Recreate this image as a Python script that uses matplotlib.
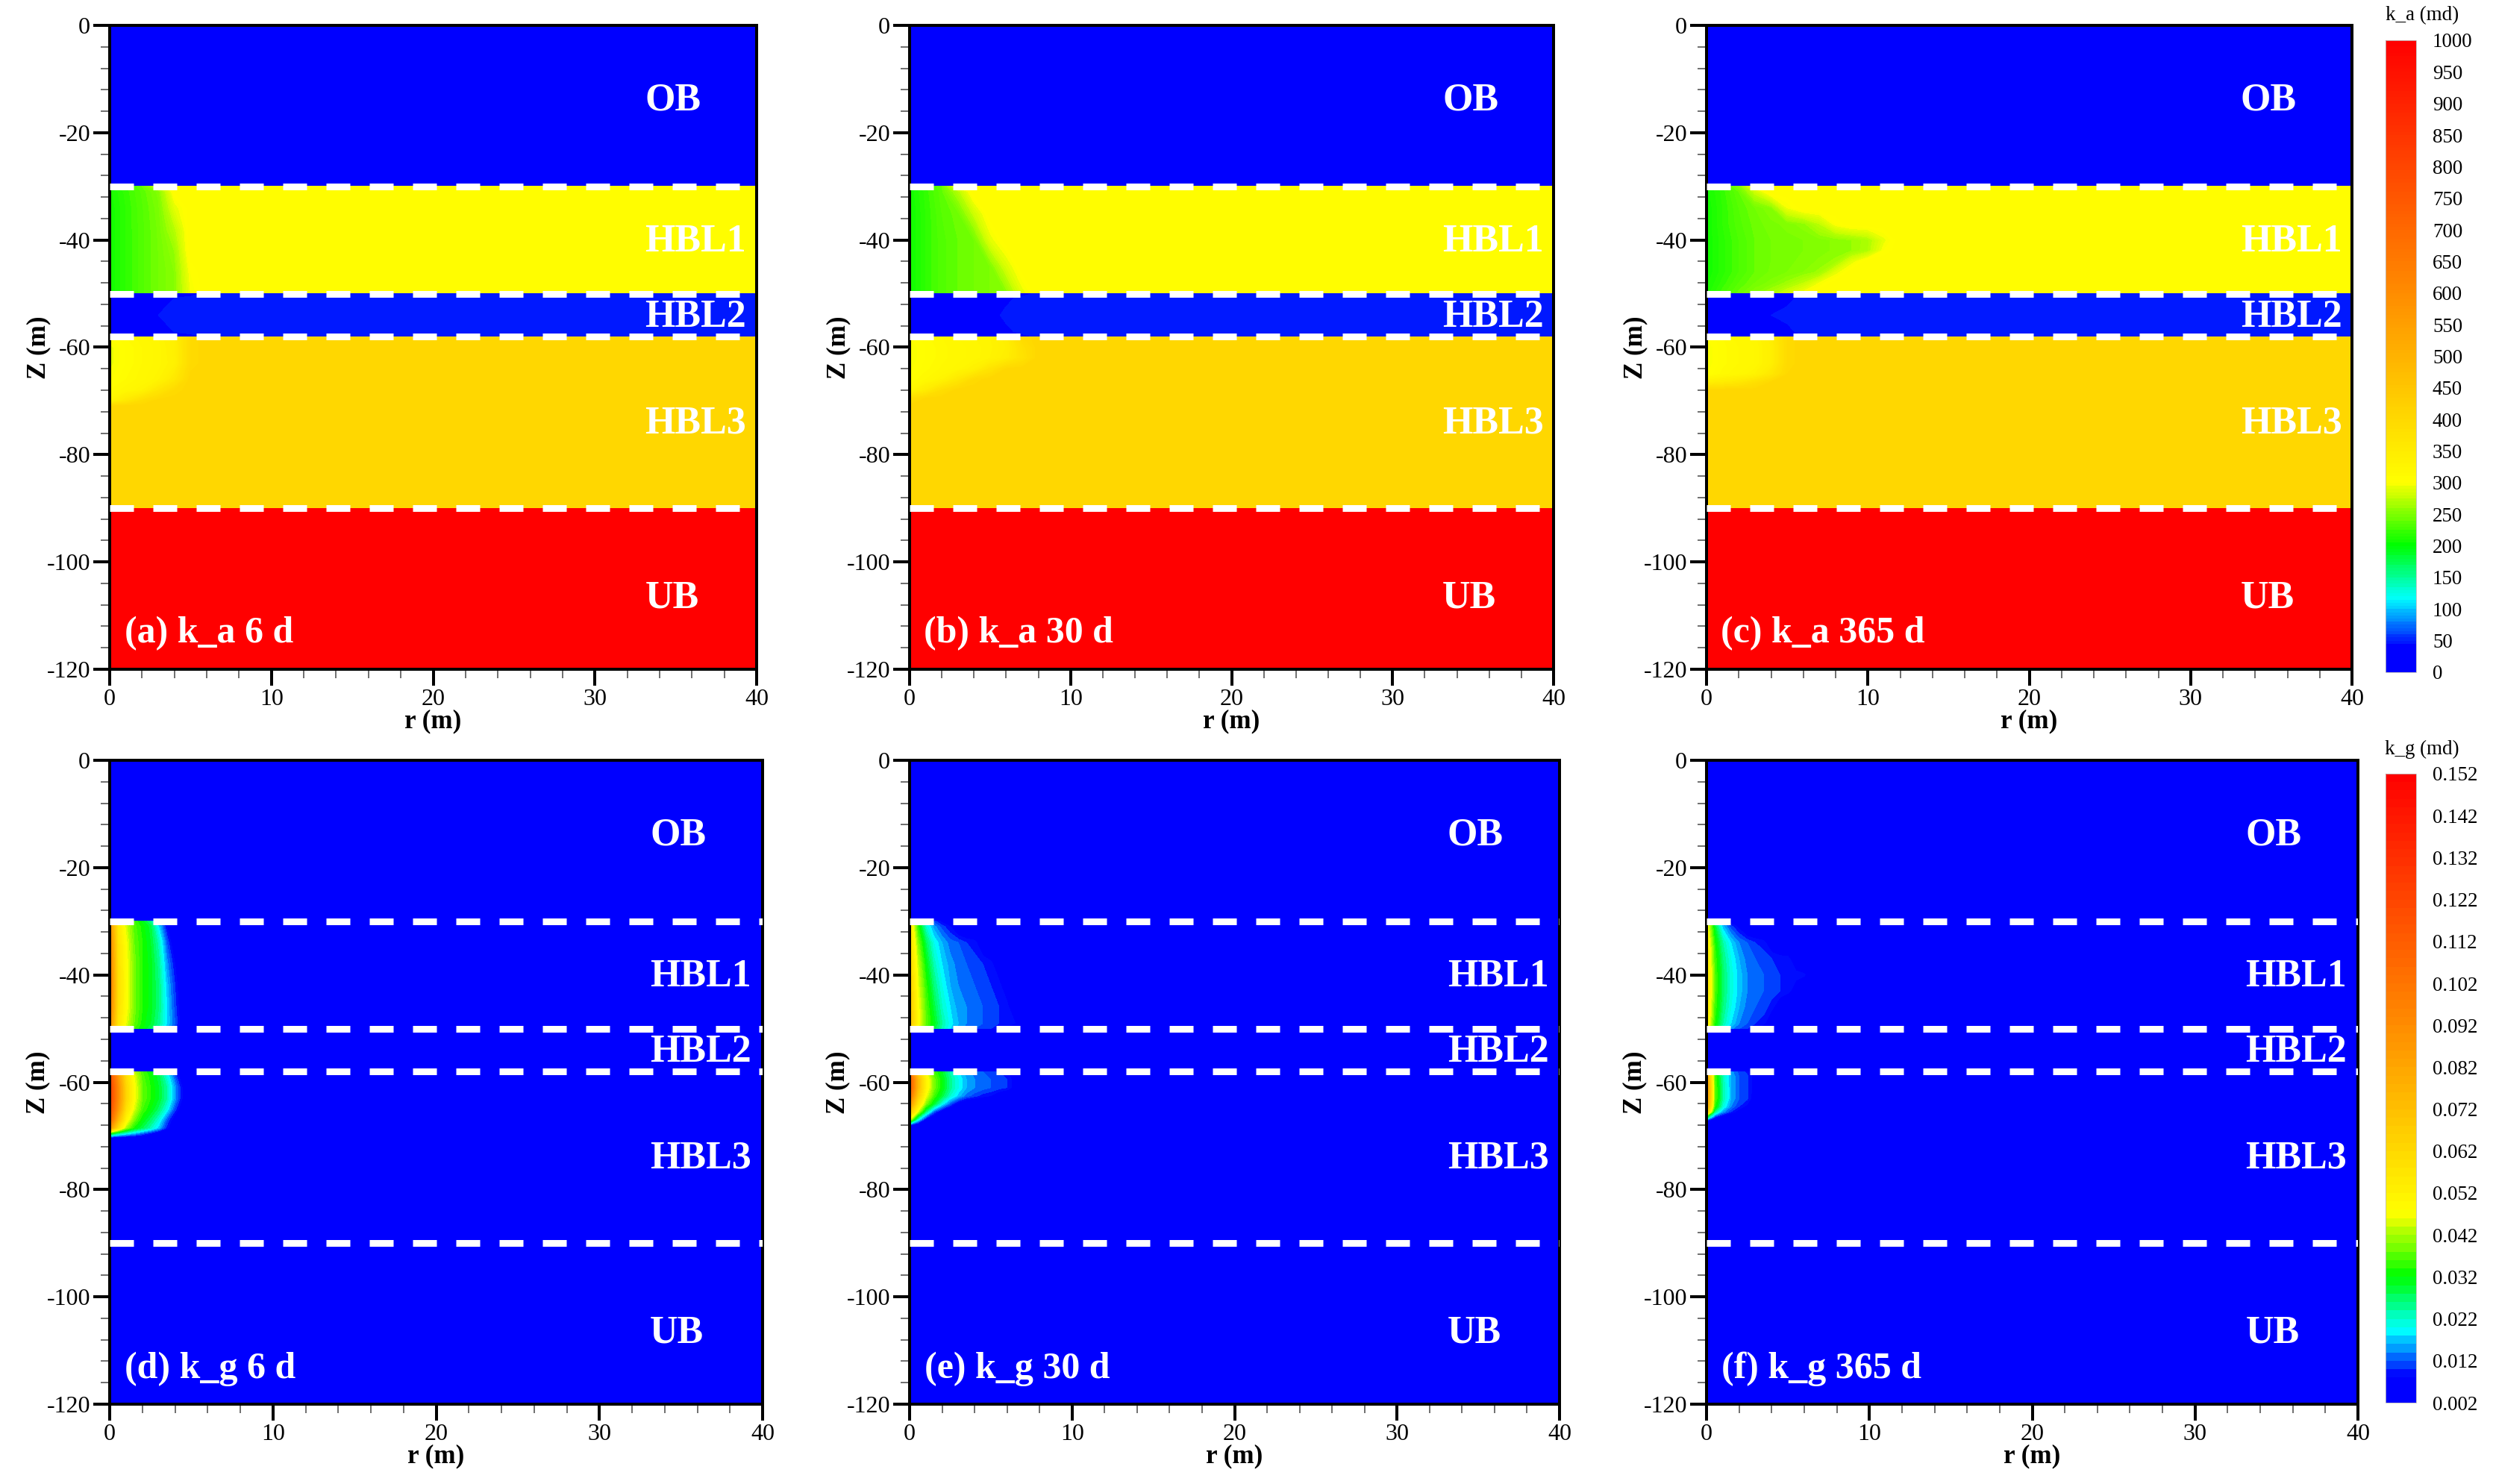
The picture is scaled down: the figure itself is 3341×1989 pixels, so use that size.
import numpy as np
import matplotlib
matplotlib.use('Agg')
import matplotlib.pyplot as plt
from matplotlib.colors import LinearSegmentedColormap
from matplotlib.ticker import MultipleLocator

plt.rcParams['font.family'] = ['Liberation Serif', 'DejaVu Serif']
plt.rcParams['axes.unicode_minus'] = False
plt.rcParams['lines.scale_dashes'] = False

DPI = 72
W, H = 3341, 1989

# ---------------- data ----------------
LAYER_BOUNDS = [0, -30, -50, -58, -90, -120]
LAYER_NAMES = ['OB', 'HBL1', 'HBL2', 'HBL3', 'UB']
LAYER_LABEL_Z = [-14.0, -40.3, -54.3, -74.2, -106.7]
DASH_Z = [-30, -50, -58, -90]
PANEL_TITLES = ['(a) k_a 6 d', '(b) k_a 30 d', '(c) k_a 365 d',
                '(d) k_g 6 d', '(e) k_g 30 d', '(f) k_g 365 d']

KA_TICKS = list(range(0, 1001, 50))
KG_TICKS = [0.002, 0.012, 0.022, 0.032, 0.042, 0.052, 0.062, 0.072,
            0.082, 0.092, 0.102, 0.112, 0.122, 0.132, 0.142, 0.152]

R_KA = [0, 1, 2, 3, 4, 5, 6, 7, 8, 9, 10, 11, 12, 40]
R_KG = [0, 0.5, 1, 1.5, 2, 2.5, 3, 3.5, 4, 4.5, 5, 5.5, 6, 6.5, 7, 40]

KA_OB = 0
KA_HBL1_FAR = 310
KA_HBL2_FAR = 48
KA_HBL3_FAR = 405
KA_UB = 1000
KG_BG = 0.002

HBL2_Z = [-50, -50.8, -54, -57.2, -58]

# (a) k_a 6 d
a_hbl1_z = [-30, -31, -34, -38, -42, -46, -50]
a_hbl1 = [[215, 225, 240, 280],
          [208, 222, 236, 252, 305],
          [205, 220, 234, 248, 290],
          [205, 220, 233, 246, 272],
          [205, 220, 233, 245, 260],
          [205, 220, 233, 245, 255, 300],
          [205, 220, 233, 245, 255, 295]]
a_hbl2 = [[15, 15, 15, 20, 30, 40],
          [15, 15, 18, 35, 45],
          [15, 15, 25, 45],
          [15, 15, 18, 35, 45],
          [15, 15, 15, 20, 30, 40]]
a_hbl3_z = [-58, -60, -63, -66, -68, -70, -71, -90]
a_hbl3 = [[300, 310, 318, 325, 340, 395],
          [292, 305, 315, 322, 338, 395],
          [292, 305, 315, 322, 335, 395],
          [298, 310, 318, 328, 360],
          [310, 318, 330, 365, 395],
          [330, 360, 390],
          [], []]

# (b) k_a 30 d
b_hbl1_z = [-30, -31, -35, -40, -45, -50]
b_hbl1 = [[210, 225, 240, 300],
          [205, 222, 238, 270],
          [203, 220, 235, 243, 280],
          [203, 220, 233, 240, 245, 290],
          [203, 220, 233, 240, 245, 250, 285],
          [203, 220, 233, 240, 245, 250, 255, 290]]
b_hbl2 = [[15, 15, 15, 15, 15, 15, 30, 40],
          [15, 15, 15, 15, 18, 30, 42],
          [15, 15, 15, 15, 20, 40],
          [15, 15, 15, 15, 18, 30, 42],
          [15, 15, 15, 15, 15, 15, 30, 40]]
b_hbl3_z = [-58, -60, -62, -64, -66, -68, -69.5, -71, -90]
b_hbl3 = [[300, 308, 315, 320, 325, 330, 345, 395],
          [295, 305, 313, 318, 322, 328, 340, 380],
          [295, 305, 313, 318, 322, 330, 345, 375],
          [298, 308, 316, 322, 335, 370, 400],
          [305, 315, 330, 360, 395],
          [320, 350, 385],
          [380, 400],
          [], []]

# (c) k_a 365 d
c_hbl1_z = [-30, -31, -34, -37, -40, -42, -44, -46, -48, -50]
c_hbl1 = [[210, 225, 250, 305],
          [207, 222, 240, 280],
          [205, 220, 235, 245, 255, 295],
          [205, 220, 233, 242, 248, 252, 258, 275, 300],
          [205, 218, 230, 240, 245, 248, 250, 253, 256, 260, 268, 292],
          [205, 218, 230, 240, 245, 248, 250, 253, 256, 260, 270, 300],
          [205, 218, 230, 240, 245, 248, 252, 256, 262, 290],
          [205, 218, 230, 240, 246, 250, 255, 262, 290],
          [208, 222, 235, 245, 252, 262, 275, 295],
          [212, 228, 242, 255, 268, 285, 300]]
c_hbl2 = [[15, 15, 15, 15, 20, 30, 40],
          [15, 15, 15, 18, 30, 42],
          [15, 15, 15, 25, 45],
          [15, 15, 15, 18, 30, 42],
          [15, 15, 15, 15, 20, 30, 40]]
c_hbl3_z = [-58, -60, -63, -65, -66.5, -68, -90]
c_hbl3 = [[300, 310, 318, 322, 345, 395],
          [295, 308, 315, 320, 340, 395],
          [295, 308, 315, 320, 340, 395],
          [300, 312, 320, 330, 360, 400],
          [340, 350, 360, 380, 400],
          [], []]

# (d) k_g 6 d
d_hbl1_z = [-30, -31, -34, -38, -42, -46, -49, -50]
d_hbl1 = [[.080, .052, .042, .036, .031, .025, .012, .004],
          [.090, .056, .045, .037, .033, .029, .018, .008],
          [.095, .058, .047, .038, .034, .030, .023, .012, .004],
          [.098, .059, .048, .039, .034, .031, .025, .015, .008],
          [.100, .060, .048, .039, .034, .031, .026, .017, .010, .003],
          [.098, .059, .048, .039, .034, .031, .026, .018, .011, .004],
          [.092, .057, .046, .038, .033, .030, .025, .018, .012, .005],
          [.085, .054, .044, .036, .032, .028, .023, .016, .010, .004]]
d_hbl3_z = [-58, -59, -61, -63, -65, -67, -68.5, -69.5, -70.5, -90]
d_hbl3 = [[.110, .078, .055, .043, .036, .032, .027, .017, .008, .003],
          [.120, .088, .060, .046, .037, .033, .029, .021, .012, .004],
          [.125, .093, .063, .048, .038, .034, .030, .024, .015, .007],
          [.125, .093, .063, .048, .038, .034, .030, .024, .015, .007],
          [.120, .088, .058, .045, .036, .032, .027, .020, .011, .004],
          [.110, .075, .050, .039, .032, .027, .021, .012, .005],
          [.090, .060, .042, .033, .028, .023, .017, .009, .003],
          [.035, .026, .021, .017, .013, .009, .005],
          [], []]

# (e) k_g 30 d
e_hbl1_z = [-30, -31, -34, -38, -42, -46, -49, -50]
e_hbl1 = [[.052, .030, .017, .011, .007, .003],
          [.056, .035, .022, .015, .011, .008, .003],
          [.060, .040, .028, .020, .016, .013, .012, .010, .009, .005],
          [.064, .044, .032, .023, .018, .015, .013, .012, .011, .010, .009, .005],
          [.067, .046, .035, .026, .020, .016, .014, .013, .012, .011, .010, .009, .005],
          [.070, .048, .037, .029, .022, .018, .015, .014, .013, .012, .011, .010, .009, .004],
          [.070, .049, .038, .031, .024, .019, .016, .014, .013, .012, .011, .010, .0095, .008, .003],
          [.066, .046, .036, .029, .023, .018, .015, .013, .012, .011, .010, .009, .007, .004]]
e_hbl3_z = [-58, -59.5, -61, -62.5, -64, -65.5, -67, -68, -69, -90]
e_hbl3 = [[.100, .065, .046, .036, .030, .023, .018, .015, .013, .012, .011, .010, .009, .004],
          [.115, .075, .051, .039, .032, .025, .020, .016, .014, .013, .012, .011, .010, .006],
          [.115, .075, .051, .039, .032, .025, .020, .016, .014, .013, .012, .011, .010, .006],
          [.105, .068, .047, .036, .029, .022, .017, .013, .011, .009, .008, .005, .003],
          [.090, .058, .040, .030, .020, .012, .006, .003],
          [.070, .045, .026, .012, .005],
          [.045, .020, .006],
          [.010, .003],
          [], []]

# (f) k_g 365 d
f_hbl1_z = [-30, -31, -34, -37, -40, -43, -46, -49, -50]
f_hbl1 = [[.045, .022, .012, .006],
          [.050, .030, .017, .011, .007],
          [.055, .034, .024, .018, .014, .012, .010, .009, .005],
          [.057, .036, .026, .020, .016, .013, .012, .011, .010, .0095, .009, .005],
          [.058, .037, .027, .021, .017, .014, .013, .012, .011, .010, .0095, .009, .0085, .004],
          [.058, .037, .027, .021, .017, .014, .013, .012, .011, .010, .009, .006],
          [.057, .036, .026, .020, .016, .013, .012, .011, .009, .005],
          [.054, .034, .024, .018, .014, .012, .010, .009, .004],
          [.050, .031, .021, .015, .012, .010, .008, .004]]
f_hbl3_z = [-58, -59, -61, -63, -64.5, -65.5, -66.5, -67.5, -90]
f_hbl3 = [[.075, .035, .022, .015, .011, .0095, .005],
          [.085, .037, .023, .016, .012, .0105, .006],
          [.090, .038, .024, .016, .012, .0105, .006],
          [.090, .038, .024, .016, .012, .0105, .005],
          [.085, .035, .021, .014, .010, .007],
          [.070, .026, .015, .010, .006],
          [.030, .010, .005],
          [], []]

# ---------------- style ----------------
cmap = LinearSegmentedColormap.from_list('tec', [
    (0.0, '#0000ff'), (0.04, '#0000ff'), (0.115, '#00ffff'),
    (0.2, '#00ff00'), (0.3, '#ffff00'), (0.6, '#ff8c00'), (1.0, '#ff0000')])
KA_LEVELS = np.linspace(0, 1000, 201)
KG_LEVELS = np.linspace(0.002, 0.152, 76)


def const_layer(top, bot, val):
    return ([0, 40], [top, bot], [[val], [val]], val)


def ka_panel(h1z, h1, h2, h3z, h3):
    return [const_layer(0, -30, KA_OB),
            (R_KA, h1z, h1, KA_HBL1_FAR),
            (R_KA, HBL2_Z, h2, KA_HBL2_FAR),
            (R_KA, h3z, h3, KA_HBL3_FAR),
            const_layer(-90, -120, KA_UB)]


def kg_panel(h1z, h1, h3z, h3):
    return [const_layer(0, -30, KG_BG),
            (R_KG, h1z, h1, KG_BG),
            const_layer(-50, -58, KG_BG),
            (R_KG, h3z, h3, KG_BG),
            const_layer(-90, -120, KG_BG)]


panels = [ka_panel(a_hbl1_z, a_hbl1, a_hbl2, a_hbl3_z, a_hbl3),
          ka_panel(b_hbl1_z, b_hbl1, b_hbl2, b_hbl3_z, b_hbl3),
          ka_panel(c_hbl1_z, c_hbl1, c_hbl2, c_hbl3_z, c_hbl3),
          kg_panel(d_hbl1_z, d_hbl1, d_hbl3_z, d_hbl3),
          kg_panel(e_hbl1_z, e_hbl1, e_hbl3_z, e_hbl3),
          kg_panel(f_hbl1_z, f_hbl1, f_hbl3_z, f_hbl3)]

fig = plt.figure(figsize=(W / DPI, H / DPI), dpi=DPI)

# axes rectangles in pixels: (left, top, right, bottom)
boxes = [(147, 34, 1014, 897), (1219, 34, 2082, 897), (2287, 34, 3152, 897),
         (147, 1019, 1022, 1882), (1219, 1019, 2090, 1882), (2287, 1019, 3160, 1882)]


def px_rect(l, t, r, b):
    return [l / W, 1 - b / H, (r - l) / W, (b - t) / H]


sets = []
for i, (layers, box) in enumerate(zip(panels, boxes)):
    ax = fig.add_axes(px_rect(*box))
    levels = KA_LEVELS if i < 3 else KG_LEVELS
    cs = None
    for r_nodes, z_nodes, rows, fill in layers:
        n = len(r_nodes)
        V = np.array([list(rw) + [fill] * (n - len(rw)) for rw in rows], float)
        Rg, Zg = np.meshgrid(r_nodes, z_nodes)
        cs = ax.contourf(Rg, Zg, V, levels=levels, cmap=cmap, antialiased=False)
    sets.append(cs)
    for z in DASH_Z:
        ax.axhline(z, color='white', lw=9, linestyle=(0, (32, 26)), zorder=5)
    for name, zl in zip(LAYER_NAMES, LAYER_LABEL_Z):
        ax.text(33.1, zl, name, color='white', fontsize=52, fontweight='bold',
                ha='left', va='center', zorder=6)
    ax.text(0.9, -113.4, PANEL_TITLES[i], color='white', fontsize=50,
            fontweight='bold', ha='left', va='center', zorder=6)
    ax.set_xlim(0, 40)
    ax.set_ylim(-120, 0)
    ax.set_xticks([0, 10, 20, 30, 40])
    ax.set_yticks([0, -20, -40, -60, -80, -100, -120])
    ax.xaxis.set_minor_locator(MultipleLocator(2))
    ax.yaxis.set_minor_locator(MultipleLocator(4))
    ax.tick_params(which='major', direction='out', length=22, width=4,
                   labelsize=32, pad=4)
    ax.tick_params(which='minor', direction='out', length=12, width=1.5,
                   color='#444444')
    for sp in ax.spines.values():
        sp.set_linewidth(4)
    ax.set_xlabel('r (m)', fontsize=35, fontweight='bold', va='center')
    ax.set_ylabel('Z (m)', fontsize=35, fontweight='bold', va='center')
    ax.xaxis.set_label_coords(0.5, -0.081)
    ax.yaxis.set_label_coords(-0.11, 0.5)

# colorbars
cax1 = fig.add_axes(px_rect(3197, 54, 3238, 901))
cb1 = fig.colorbar(sets[0], cax=cax1, ticks=KA_TICKS)
cb1.ax.set_yticklabels([str(t) for t in KA_TICKS])
cax2 = fig.add_axes(px_rect(3197, 1037, 3238, 1880))
cb2 = fig.colorbar(sets[3], cax=cax2, ticks=KG_TICKS)
cb2.ax.set_yticklabels(['%.3f' % t for t in KG_TICKS])
for cb in (cb1, cb2):
    cb.ax.tick_params(length=0, labelsize=27, pad=22)
    cb.outline.set_linewidth(0.8)
    cb.outline.set_edgecolor('#bbbbbb')
fig.text(3246 / W, 1 - 21 / H, 'k_a (md)', ha='center', va='center', fontsize=27)
fig.text(3246 / W, 1 - 1004 / H, 'k_g (md)', ha='center', va='center', fontsize=27)

fig.savefig('out.png', dpi=DPI)
